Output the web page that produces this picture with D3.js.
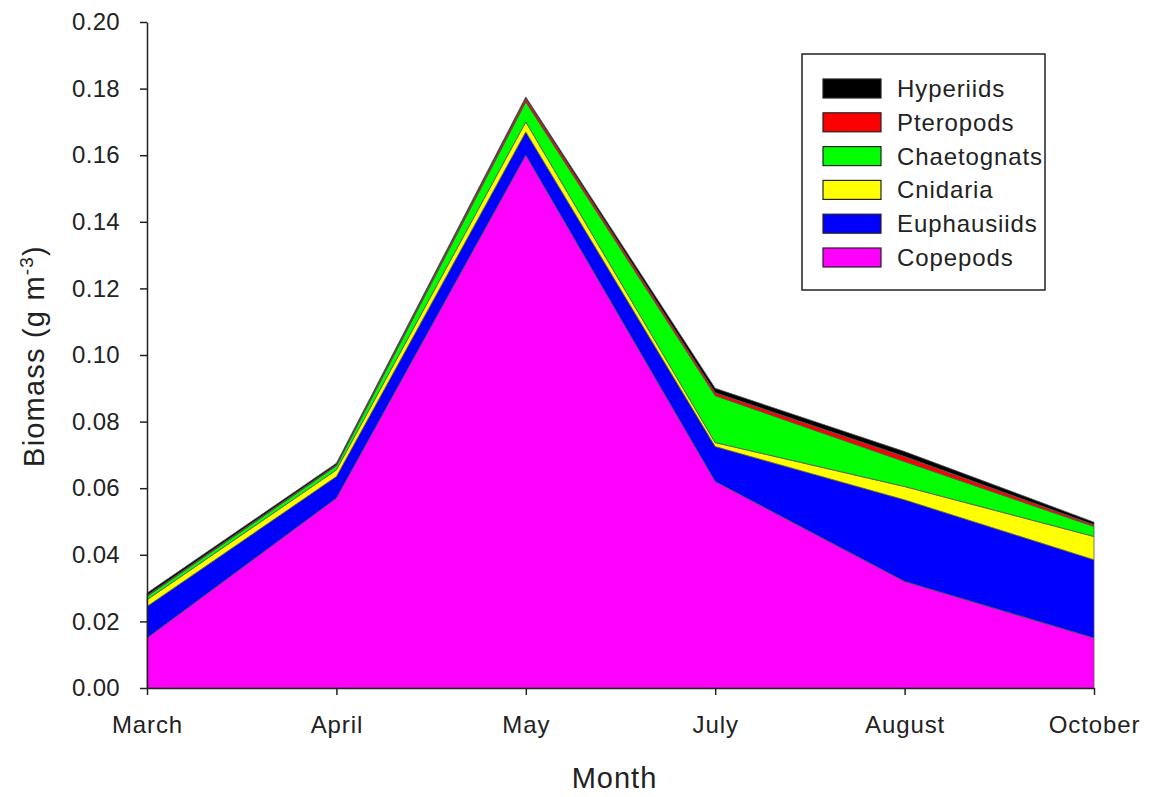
<!DOCTYPE html>
<html>
<head>
<meta charset="utf-8">
<script src="https://cdn.jsdelivr.net/npm/d3@7"></script>
<style>
  body { margin: 0; background: #fff; }
  text { font-family: "Liberation Sans", Arial, sans-serif; fill: #222; }
</style>
</head>
<body>
<div id="chart"></div>
<script>
// data
const months = ["March", "April", "May", "July", "August", "October"];
const groups = ["Copepods", "Euphausiids", "Cnidaria", "Chaetognats", "Pteropods", "Hyperiids"];
const copepods    = [0.0150, 0.0570, 0.1600, 0.0620, 0.0320, 0.0150];
const euphausiids = [0.0095, 0.0065, 0.0070, 0.0105, 0.0245, 0.0235];
const cnidaria    = [0.0020, 0.0020, 0.0030, 0.0012, 0.0040, 0.0070];
const chaetognats = [0.0010, 0.0012, 0.0060, 0.0141, 0.0075, 0.0030];
const pteropods   = [0.0003, 0.0003, 0.0010, 0.0009, 0.0015, 0.0005];
const hyperiids   = [0.0007, 0.0005, 0.0005, 0.0013, 0.0015, 0.0008];
const yTicks = [0, 0.02, 0.04, 0.06, 0.08, 0.10, 0.12, 0.14, 0.16, 0.18, 0.20];
const colors = ["#ff00ff", "#0000ff", "#ffff00", "#00ff00", "#ff0000", "#000000"];

// margins
const margin = {top: 22, right: 59, bottom: 109, left: 147};
const width = 1153 - margin.left - margin.right,
   height = 797 - margin.top - margin.bottom;

const svg = d3.select("#chart").append("svg")
    .attr("width", 1153)
    .attr("height", 797)
  .append("g")
    .attr("transform", "translate(" + margin.left + "," + margin.top + ")");

// build rows for d3.stack
const series = [copepods, euphausiids, cnidaria, chaetognats, pteropods, hyperiids];
const rows = months.map((m, i) => {
  const r = {month: m};
  groups.forEach((g, j) => r[g] = series[j][i]);
  return r;
});
const stacked = d3.stack().keys(groups)(rows);

const xScale = d3.scalePoint().domain(months).range([0, width]);
const yScale = d3.scaleLinear().domain([0, 0.2]).range([height, 0]);
const color = d3.scaleOrdinal(groups, colors);

const area = d3.area()
  .x(d => xScale(d.data.month))
  .y0(d => yScale(d[0]))
  .y1(d => yScale(d[1]));

svg.append("g")
  .selectAll("path")
  .data(stacked)
  .join("path")
    .attr("d", area)
    .attr("fill", d => color(d.key))
    .attr("stroke", "#555")
    .attr("stroke-width", 0.8);

// y axis
const yAxis = d3.axisLeft(yScale).tickValues(yTicks).tickFormat(d3.format(".2f")).tickSize(7).tickSizeOuter(0).tickPadding(20);
svg.append("g")
    .call(yAxis)
    .call(g => g.selectAll("text").attr("font-size", 24).attr("letter-spacing", 0.3))
    .call(g => g.selectAll("line,path").attr("stroke", "#222").attr("stroke-width", 1.5));

// x axis
const xAxis = d3.axisBottom(xScale).tickSize(7).tickSizeOuter(0).tickPadding(21);
svg.append("g")
    .attr("transform", `translate(0,${height})`)
    .call(xAxis)
    .call(g => g.selectAll("text").attr("font-size", 24).attr("letter-spacing", 0.9))
    .call(g => g.selectAll("line,path").attr("stroke", "#222").attr("stroke-width", 1.5));

// axis titles
svg.append("text")
  .attr("x", width / 2 - 6)
  .attr("y", height + 100)
  .attr("text-anchor", "middle")
  .attr("font-size", 29)
  .attr("letter-spacing", 1)
  .text("Month");

const yTitle = svg.append("text")
  .attr("transform", `translate(${44 - margin.left},${height / 2 + 1}) rotate(-90)`)
  .attr("text-anchor", "middle")
  .attr("font-size", 29)
  .attr("letter-spacing", 1.2);
yTitle.append("tspan").text("Biomass (g m");
yTitle.append("tspan").attr("dy", -11).attr("font-size", 19).text("-3");
yTitle.append("tspan").attr("dy", 11).text(")");

// legend
const legend = svg.append("g").attr("transform", `translate(${802 - margin.left},${54 - margin.top})`);
legend.append("rect")
  .attr("width", 243).attr("height", 236)
  .attr("fill", "#fff").attr("stroke", "#222").attr("stroke-width", 1.5);

const legendKeys = groups.slice().reverse();
const item = legend.selectAll("g.item")
  .data(legendKeys)
  .join("g")
    .attr("class", "item")
    .attr("transform", (d, i) => `translate(21,${25 + i * 33.8})`);
item.append("rect")
  .attr("width", 58).attr("height", 19)
  .attr("fill", d => color(d))
  .attr("stroke", "#222").attr("stroke-width", 1.2);
item.append("text")
  .attr("x", 74).attr("y", 18)
  .attr("font-size", 24)
  .attr("letter-spacing", 0.9)
  .text(d => d);
</script>
</body>
</html>
